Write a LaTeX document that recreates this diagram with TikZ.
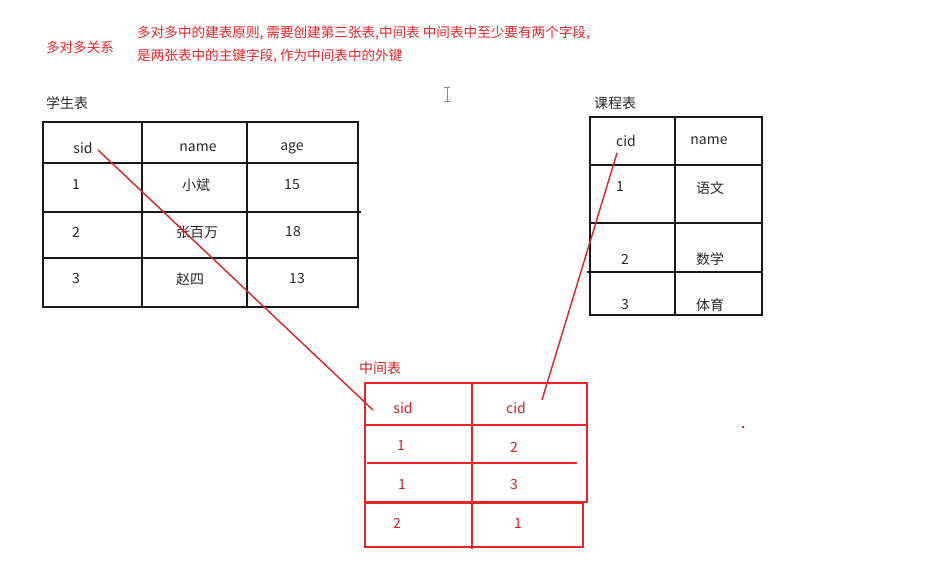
\documentclass[tikz,border=0pt]{standalone}
\usepackage{fontspec}
\setmainfont{Noto Sans CJK SC}
\definecolor{myred}{RGB}{228,38,38}
\definecolor{mytxt}{RGB}{40,40,40}
\begin{document}
\begin{tikzpicture}[x=1pt,y=-1pt,
  txt/.style={inner sep=0pt,font=\fontsize{14}{16}\selectfont,text=mytxt},
  rtxt/.style={inner sep=0pt,font=\fontsize{14}{16}\selectfont,text=myred!90!black},
  htxt/.style={inner sep=0pt,font=\fontsize{13.6}{15}\selectfont,text=myred,anchor=west},
  grid/.style={line width=1.6pt,black!90},
  rgrid/.style={line width=1.5pt,myred},
  link/.style={line width=1.4pt,myred!95!black}]
\useasboundingbox[fill=white] (0,0) rectangle (933,560);
% header
\node[rtxt,font=\fontsize{13.6}{15}\selectfont,text=myred] (title) at (80,47) {多对多关系};
\node[htxt] (rule1) at (137,33) {多对多中的建表原则, 需要创建第三张表,中间表\ 中间表中至少要有两个字段,};
\node[htxt] (rule2) at (137,56) {是两张表中的主键字段, 作为中间表中的外键};
% cursor
\draw[black!45,line width=0.8pt] (447,87) -- (447,101) (444,87) -- (450,87) (444,101) -- (450,101);
\fill[myred] (742,425.5) rectangle (744,428);
% student table
\node[txt] (stitle) at (67,103) {学生表};
\draw[grid] (43,122) rectangle (358,307);
\draw[grid] (142,122) -- (142,307) (247,122) -- (247,307);
\draw[grid] (43,163) -- (358,163) (43,212) -- (361,212) (43,258) -- (358,258);
\node[txt] (ssid) at (83,148) {sid};
\node[txt] (sname) at (198,148) {name};
\node[txt] (sage) at (292,148) {age};
\node[txt] (s11) at (76,185) {1};
\node[txt] (s12) at (196,185) {小斌};
\node[txt] (s13) at (292,185) {15};
\node[txt] (s21) at (76,232) {2};
\node[txt] (s22) at (197,232) {张百万};
\node[txt] (s23) at (293,232) {18};
\node[txt] (s31) at (76,279) {3};
\node[txt] (s32) at (190,279) {赵四};
\node[txt] (s33) at (297,279) {13};
% course table
\node[txt] (ctitle) at (615,103) {课程表};
\draw[grid] (590,117) rectangle (762,315);
\draw[grid] (675,117) -- (675,315);
\draw[grid] (590,165) -- (762,165) (590,223) -- (762,223) (587,272) -- (762,272);
\node[txt] (ccid) at (626,141) {cid};
\node[txt] (cname) at (709,141) {name};
\node[txt] (c11) at (620,187) {1};
\node[txt] (c12) at (710,188) {语文};
\node[txt] (c21) at (625,259) {2};
\node[txt] (c22) at (710,259) {数学};
\node[txt] (c31) at (625,305) {3};
\node[txt] (c32) at (710,305) {体育};
% middle table
\node[rtxt] (mtitle) at (380,368) {中间表};
\draw[rgrid] (365,383) rectangle (587,502);
\draw[rgrid] (365,425) -- (587,425);
\draw[rgrid] (367,463) -- (577,463);
\draw[rgrid] (365,503) rectangle (583,547);
\draw[rgrid] (472,383) -- (472,549);
\node[rtxt] (msid) at (403,408) {sid};
\node[rtxt] (mcid) at (516,408) {cid};
\node[rtxt] (m11) at (401,445) {1};
\node[rtxt] (m12) at (514,447) {2};
\node[rtxt] (m21) at (402,484) {1};
\node[rtxt] (m22) at (514,484) {3};
\node[rtxt] (m31) at (397,523) {2};
\node[rtxt] (m32) at (518,523) {1};
% links
\coordinate (a1) at (98,150);
\coordinate (a2) at (373,410);
\coordinate (b1) at (617,153);
\coordinate (b2) at (542,400);
\draw[link] (a1) -- (a2);
\draw[link] (b1) -- (b2);
\end{tikzpicture}
\end{document}
